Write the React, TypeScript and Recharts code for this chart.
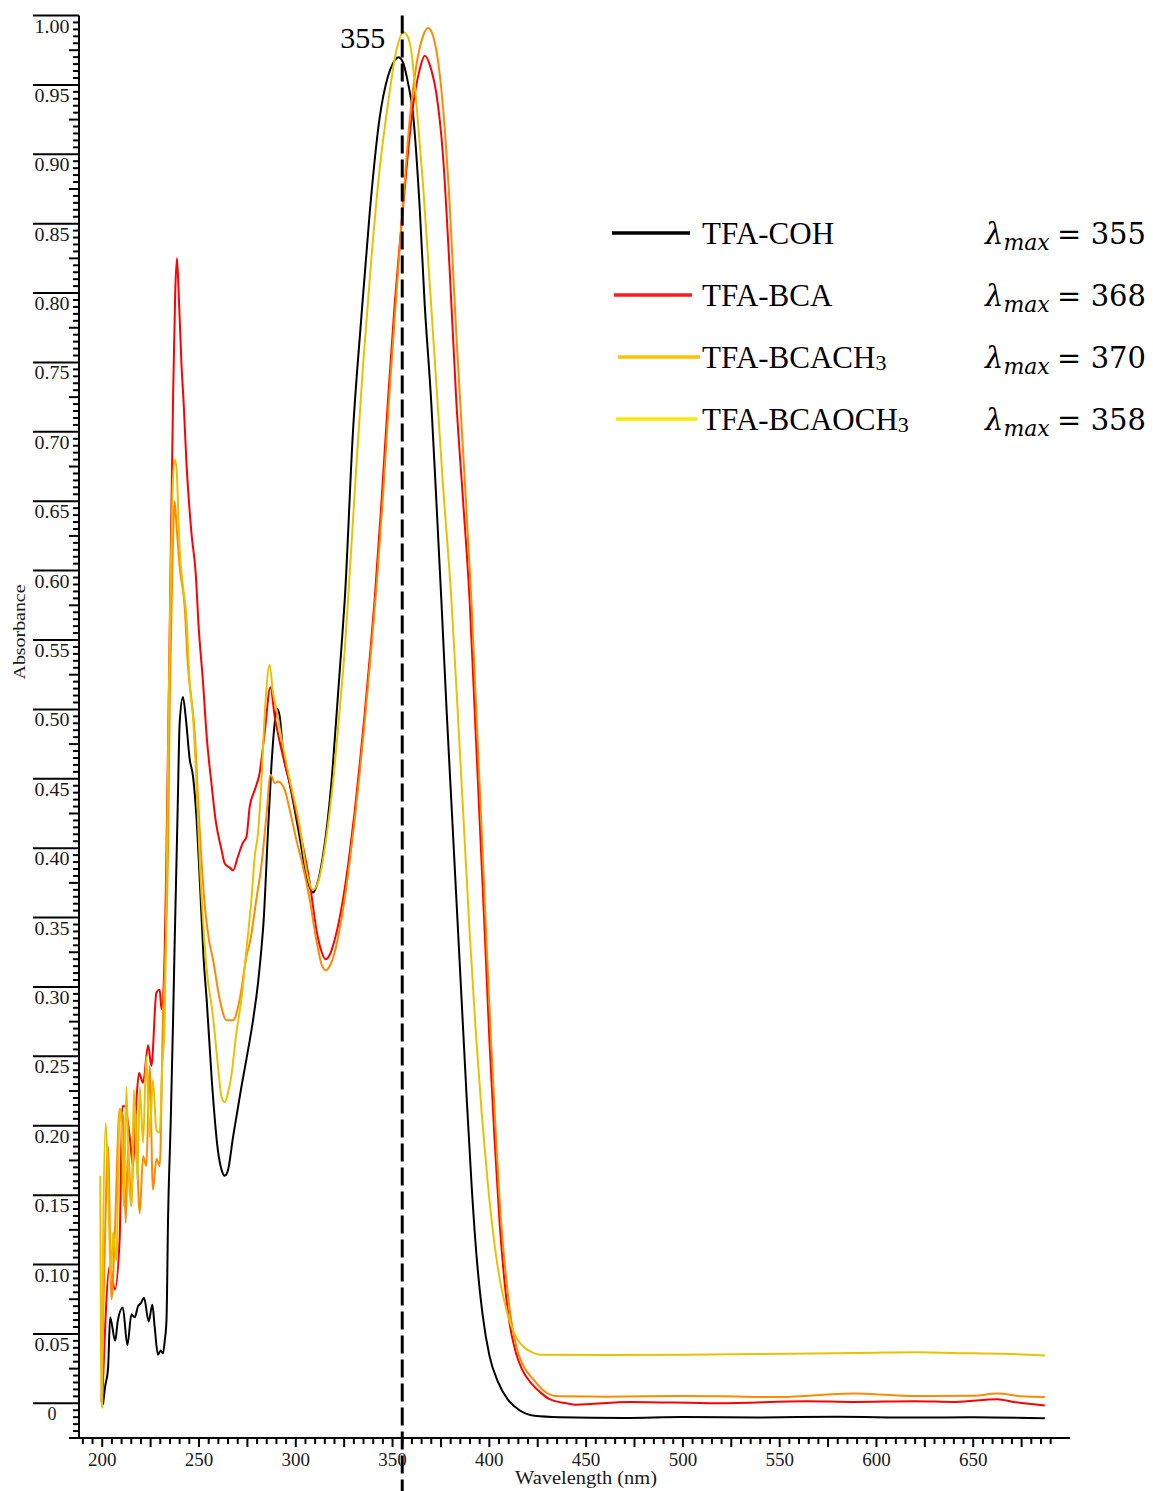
import React from 'react';
import { LineChart, Line, XAxis, YAxis, ReferenceLine, Legend } from 'recharts';

// Wavelength (nm) / absorbance pairs
const tfaCoh: [number, number][] = [
  [200.4, -0.001], [201.5, 0.012], [203, 0.025], [204.1, 0.062], [206.7, 0.045], [208, 0.059], [210.6, 0.069],
  [213, 0.042], [215.1, 0.064], [216.8, 0.062], [218.5, 0.07], [219.9, 0.072], [221.6, 0.076], [224, 0.059],
  [225.9, 0.071], [227.1, 0.055], [228.8, 0.035], [230.2, 0.038], [231.4, 0.036], [232.3, 0.045], [233.2, 0.06],
  [234, 0.132], [235.4, 0.204], [236.6, 0.276], [237.4, 0.33], [239, 0.43], [240, 0.49], [241.7, 0.509],
  [243.1, 0.495], [245.2, 0.464], [246.9, 0.452], [248.8, 0.42], [250.4, 0.377], [252.4, 0.32], [254, 0.29],
  [256.6, 0.233], [259.7, 0.183], [261.7, 0.168], [263.3, 0.164], [264.8, 0.167], [267.6, 0.192], [271.9, 0.228],
  [274.5, 0.248], [277.9, 0.276], [280.5, 0.303], [282.2, 0.327], [283.4, 0.348], [285.6, 0.411], [287.4, 0.459],
  [289.1, 0.49], [290.3, 0.5005], [291.7, 0.495], [293.4, 0.47], [296.8, 0.447], [302, 0.408], [305.5, 0.38],
  [307.2, 0.372], [308.9, 0.368], [310.8, 0.373], [314, 0.394], [318.4, 0.447], [321, 0.495], [323.5, 0.543],
  [325.3, 0.579], [329.5, 0.699], [333.9, 0.783], [338.2, 0.858], [343.3, 0.926], [347.6, 0.956], [350, 0.965],
  [353.1, 0.97], [355.7, 0.965], [357.9, 0.952], [360.5, 0.93], [364, 0.862], [366.6, 0.792], [370, 0.721],
  [372.6, 0.651], [375.2, 0.579], [377.9, 0.5], [380.5, 0.43], [383.1, 0.36], [385.7, 0.29], [388.3, 0.22],
  [390.8, 0.158], [393.4, 0.106], [396.5, 0.064], [400.1, 0.034], [404.3, 0.016], [409.4, 0.003], [415.6, -0.005],
  [423.4, -0.009], [436.3, -0.01], [470, -0.0105], [500, -0.0098], [540, -0.0102], [580, -0.0097], [620, -0.0103],
  [650, -0.01], [687, -0.0108],
];

const tfaBca: [number, number][] = [
  [200, 0], [203.9, 0.099], [206.5, 0.082], [209, 0.118], [210.4, 0.214], [211.6, 0.214], [214.2, 0.192],
  [215.9, 0.171], [217.7, 0.219], [219, 0.238], [221.1, 0.231], [223.7, 0.258], [225.4, 0.243], [228, 0.296],
  [229.7, 0.298], [230.6, 0.284], [232.3, 0.327], [233.2, 0.399], [234.9, 0.56], [236.6, 0.725], [237.7, 0.8],
  [238.6, 0.825], [239.5, 0.8], [240.9, 0.75], [242.1, 0.72], [243.5, 0.678], [246.1, 0.627], [248.3, 0.598],
  [249.8, 0.56], [252.1, 0.519], [254, 0.48], [256.4, 0.447], [258.6, 0.42], [261.6, 0.399], [263.3, 0.389],
  [265.9, 0.386], [267.6, 0.384], [270.1, 0.394], [272.7, 0.404], [274.5, 0.408], [276.2, 0.43], [278.8, 0.442],
  [281.3, 0.454], [283.9, 0.483], [286.9, 0.516], [289.1, 0.495], [292.6, 0.471], [296.8, 0.447], [302, 0.413],
  [307.2, 0.375], [310.8, 0.34], [313.4, 0.325], [315.4, 0.32], [317.5, 0.323], [320.1, 0.334], [322.7, 0.35],
  [325.3, 0.371], [327.8, 0.396], [330.4, 0.426], [333, 0.46], [335.6, 0.497], [338.2, 0.537], [340.7, 0.578],
  [344.2, 0.648], [347.6, 0.722], [351.1, 0.792], [353.7, 0.835], [357.1, 0.888], [360.5, 0.934], [364, 0.961],
  [366.6, 0.971], [370, 0.961], [372.6, 0.944], [376, 0.9], [379.5, 0.817], [382.9, 0.723], [386.4, 0.651],
  [389.8, 0.579], [392.4, 0.5], [395, 0.42], [397.6, 0.34], [400.1, 0.26], [402.7, 0.19], [405.3, 0.13],
  [407.9, 0.087], [410.5, 0.057], [413.6, 0.037], [416.7, 0.025], [421.9, 0.014], [426.5, 0.0077], [431.1, 0.003],
  [439.9, 0], [444.6, -0.001], [472.5, 0.001], [518.5, 0], [564.4, 0.0015], [587.6, 0.001], [619.7, 0.0015],
  [640.9, 0.001], [662.5, 0.003], [670.8, 0.001], [687, -0.0015],
];

const tfaBcaCh3: [number, number][] = [
  [199.5, 0.001], [201.3, 0.111], [203, 0.185], [204.8, 0.075], [206.5, 0.123], [209, 0.212], [210.7, 0.207],
  [212.1, 0.13], [213.3, 0.183], [215.1, 0.142], [216.8, 0.214], [219.4, 0.137], [221.1, 0.178], [222.8, 0.171],
  [224.5, 0.243], [226.2, 0.154], [228, 0.176], [229.7, 0.171], [231.4, 0.279], [232.8, 0.327], [234, 0.399],
  [234.9, 0.507], [236.2, 0.6], [237.4, 0.65], [238.5, 0.63], [240, 0.603], [242.6, 0.574], [244.3, 0.531],
  [246.1, 0.507], [247.8, 0.483], [249.5, 0.435], [250.9, 0.4], [252.9, 0.36], [255, 0.335], [257.2, 0.32],
  [260.7, 0.291], [264.2, 0.276], [267.6, 0.276], [271, 0.291], [274.5, 0.322], [276.7, 0.335], [279.6, 0.363],
  [282.2, 0.387], [284.8, 0.423], [287, 0.453], [289.1, 0.447], [290.8, 0.448], [294.3, 0.442], [296.8, 0.428],
  [300.3, 0.406], [303.7, 0.387], [307.2, 0.363], [310.6, 0.334], [313.4, 0.316], [315.4, 0.312], [317.5, 0.315],
  [320.1, 0.325], [322.7, 0.342], [325.3, 0.364], [327.8, 0.39], [330.4, 0.42], [333, 0.454], [335.6, 0.491],
  [338.2, 0.531], [341.8, 0.59], [345.1, 0.655], [348.5, 0.73], [351.9, 0.798], [354.4, 0.846], [356.8, 0.89],
  [358.8, 0.924], [362.3, 0.964], [365.7, 0.985], [368.3, 0.991], [370.2, 0.988], [372.6, 0.975], [376, 0.935],
  [379.5, 0.864], [382.9, 0.771], [386.4, 0.687], [390.7, 0.579], [393.2, 0.5], [395.8, 0.42], [398.3, 0.34],
  [400.9, 0.26], [403.5, 0.19], [406.1, 0.13], [408.7, 0.09], [411.3, 0.06], [414.1, 0.04], [417.2, 0.028],
  [422.9, 0.017], [428.6, 0.0085], [435.6, 0.005], [460, 0.0048], [500, 0.0052], [520, 0.005], [550, 0.0045],
  [587.6, 0.007], [620, 0.0052], [650, 0.0055], [662.5, 0.007], [675, 0.005], [687, 0.0045],
];

const tfaBcaOch3: [number, number][] = [
  [199, 0.164], [199.3, 0.044], [199.9, -0.003], [200.4, 0.108], [201.8, 0.202], [203, 0.161], [204.4, 0.089],
  [205.6, 0.123], [207.3, 0.103], [209, 0.212], [210.2, 0.192], [211.1, 0.142], [212.5, 0.228], [213.8, 0.161],
  [215.1, 0.142], [216.4, 0.226], [218.2, 0.161], [219.4, 0.228], [221.1, 0.188], [222.8, 0.25], [224.5, 0.192],
  [226.2, 0.233], [228, 0.197], [229.7, 0.195], [230.9, 0.24], [232.3, 0.276], [233.3, 0.38], [234.3, 0.5],
  [235.4, 0.6], [236.4, 0.66], [237.3, 0.68], [238.3, 0.675], [240, 0.615], [241.7, 0.589], [243.5, 0.567],
  [245.2, 0.519], [246.9, 0.495], [248.7, 0.447], [250.4, 0.39], [252.2, 0.345], [253.8, 0.315], [257.2, 0.279],
  [259.8, 0.243], [261.6, 0.221], [263.3, 0.217], [265, 0.224], [266.7, 0.236], [269.3, 0.267], [271.9, 0.291],
  [274.5, 0.327], [277.1, 0.363], [278.8, 0.394], [280.5, 0.411], [282.2, 0.447], [283.9, 0.495], [286.5, 0.532],
  [288.2, 0.512], [290, 0.5], [293.4, 0.473], [296.8, 0.45], [302, 0.416], [305.5, 0.384], [307.2, 0.374],
  [308.9, 0.37], [312.4, 0.38], [315.8, 0.408], [319.2, 0.447], [322.7, 0.5], [325.3, 0.543], [327, 0.579],
  [331.3, 0.675], [334.7, 0.747], [339, 0.824], [343.3, 0.889], [347.6, 0.936], [352, 0.975], [355.7, 0.988],
  [357.8, 0.985], [359.7, 0.974], [362.3, 0.937], [365.7, 0.879], [369.2, 0.807], [372.6, 0.735], [376, 0.663],
  [380.4, 0.579], [383.6, 0.5], [386.7, 0.42], [389.8, 0.34], [392.9, 0.27], [396, 0.21], [399.1, 0.16],
  [402.2, 0.12], [405.3, 0.09], [408.4, 0.07], [411.5, 0.055], [414.6, 0.046], [418.2, 0.04], [421.8, 0.037],
  [426, 0.035], [460, 0.0348], [500, 0.035], [540, 0.0355], [580, 0.036], [600, 0.0365], [620, 0.0368],
  [650, 0.036], [670, 0.0355], [687, 0.0345],
];

const seriesNames = ['TFA-COH', 'TFA-BCA', 'TFA-BCACH3', 'TFA-BCAOCH3'];
const lambdaMax = [355, 368, 370, 358];
const plotColors = ['#000000', '#ff0000', '#ff8a00', '#e8c200'];
const legendColors = ['#000000', '#ff1a1a', '#ffc000', '#ffe800'];
const markerWavelength = 355;

const xTicks = Array.from({ length: 101 }, (_, i) => 190 + i * 5);
const yTicks = Array.from({ length: 206 }, (_, i) => Number(((i - 5) * 0.005).toFixed(3)));

const toRows = (pts: [number, number][]) => pts.map(([wl, a]) => ({ wl, a }));
const seriesData = [tfaCoh, tfaBca, tfaBcaCh3, tfaBcaOch3].map(toRows);

const SERIF = "'Liberation Serif', 'Times New Roman', serif";
const MATH = "'DejaVu Serif', serif";

const XTick = (props: any) => {
  const { x, y, payload } = props;
  const v = Math.round(payload.value);
  const major = v % 25 === 0;
  return (
    <g>
      <line x1={x} x2={x} y1={y} y2={y + (major ? 9 : 6)} stroke="#000" strokeWidth={2} />
      {v % 50 === 0 && v >= 200 && (
        <text x={x} y={y + 28} textAnchor="middle" fontFamily={SERIF} fontSize={19} fill="#1a1a1a">
          {v}
        </text>
      )}
    </g>
  );
};

const YTick = (props: any) => {
  const { x, y, payload } = props;
  const i = Math.round(payload.value / 0.005);
  const major = i % 10 === 0;
  const mid = i % 5 === 0;
  const len = major ? 46 : mid ? 10 : 6;
  const label = i === 0 ? '0' : payload.value.toFixed(2);
  return (
    <g>
      <line x1={x - len} x2={x} y1={y} y2={y} stroke="#000" strokeWidth={2} />
      {major && i >= 0 && (
        <text
          x={x - 27}
          y={y + 17}
          textAnchor="middle"
          fontFamily={SERIF}
          fontSize={18}
          fill="#1a1a1a"
          {...(i === 0 ? {} : { textLength: 35, lengthAdjust: 'spacingAndGlyphs' })}
        >
          {label}
        </text>
      )}
    </g>
  );
};

const MarkerLine = (props: any) => {
  const { x1, y1, x2, y2 } = props;
  const top = Math.min(y1, y2);
  const bottom = Math.max(y1, y2);
  return (
    <g>
      <line x1={x1} x2={x2} y1={top} y2={bottom + 53} stroke="#000" strokeWidth={3} strokeDasharray="18 6" />
      <text x={x1 - 17} y={top + 32} textAnchor="end" fontFamily={SERIF} fontSize={30} fill="#000">
        {markerWavelength}
      </text>
    </g>
  );
};

const Overlay = () => {
  const rowY = [233, 295, 357, 419];
  const lineX = [
    [612, 690],
    [614, 692],
    [618, 700],
    [616, 697],
  ];
  return (
    <svg width={1153} height={1491} style={{ display: 'block' }}>
      {seriesNames.map((name, k) => {
        const y = rowY[k];
        const sub = name.endsWith('CH3');
        const base = sub ? name.slice(0, -1) : name;
        return (
          <g key={name}>
            <line x1={lineX[k][0]} x2={lineX[k][1]} y1={y} y2={y} stroke={legendColors[k]} strokeWidth={3.5} />
            <text x={702} y={y + 11} fontFamily={SERIF} fontSize={31} fill="#000">
              {base}
              {sub && (
                <tspan fontSize={22} dy={2}>
                  3
                </tspan>
              )}
            </text>
            <text x={985} y={y + 11} fontFamily={MATH} fontStyle="italic" fontSize={29} fill="#000">
              λ
              <tspan fontSize={22} dy={6}>
                max
              </tspan>
            </text>
            <text x={1146} y={y + 11} textAnchor="end" fontFamily={MATH} fontSize={29} fill="#000">
              = {lambdaMax[k]}
            </text>
          </g>
        );
      })}
      <text
        transform="translate(25,632) rotate(-90)"
        textAnchor="middle"
        fontFamily={SERIF}
        fontSize={17}
        textLength={95}
        lengthAdjust="spacingAndGlyphs"
        fill="#1a1a1a"
      >
        Absorbance
      </text>
      <text
        x={586}
        y={1484}
        textAnchor="middle"
        fontFamily={SERIF}
        fontSize={18}
        textLength={142}
        lengthAdjust="spacingAndGlyphs"
        fill="#1a1a1a"
      >
        Wavelength (nm)
      </text>
    </svg>
  );
};

export default function App() {
  return (
    <div style={{ position: 'absolute', left: 0, top: 0, width: 1153, height: 1491, background: '#fff' }}>
      <LineChart width={1153} height={1491} margin={{ top: 15.5, right: 83, bottom: 0, left: 0 }}>
        <XAxis
          type="number"
          dataKey="wl"
          domain={[188, 700]}
          ticks={xTicks}
          interval={0}
          allowDataOverflow
          height={53}
          tickSize={0}
          tickMargin={0}
          tickLine={false}
          tick={<XTick />}
          axisLine={{ stroke: '#000', strokeWidth: 2 }}
        />
        <YAxis
          type="number"
          domain={[-0.025, 1]}
          ticks={yTicks}
          interval={0}
          allowDataOverflow
          width={79}
          tickSize={0}
          tickMargin={0}
          tickLine={false}
          tick={<YTick />}
          axisLine={{ stroke: '#000', strokeWidth: 2 }}
        />
        {seriesData.map((d, k) => (
          <Line
            key={seriesNames[k]}
            data={d}
            dataKey="a"
            name={seriesNames[k]}
            type="monotone"
            stroke={plotColors[k]}
            strokeWidth={2}
            dot={false}
            activeDot={false}
            isAnimationActive={false}
          />
        ))}
        <ReferenceLine x={markerWavelength} shape={<MarkerLine />} ifOverflow="visible" />
        <Legend
          layout="horizontal"
          verticalAlign="middle"
          align="center"
          content={() => <Overlay />}
          wrapperStyle={{ left: 0, top: 0, width: 1153, height: 1491, pointerEvents: 'none' }}
        />
      </LineChart>
    </div>
  );
}
